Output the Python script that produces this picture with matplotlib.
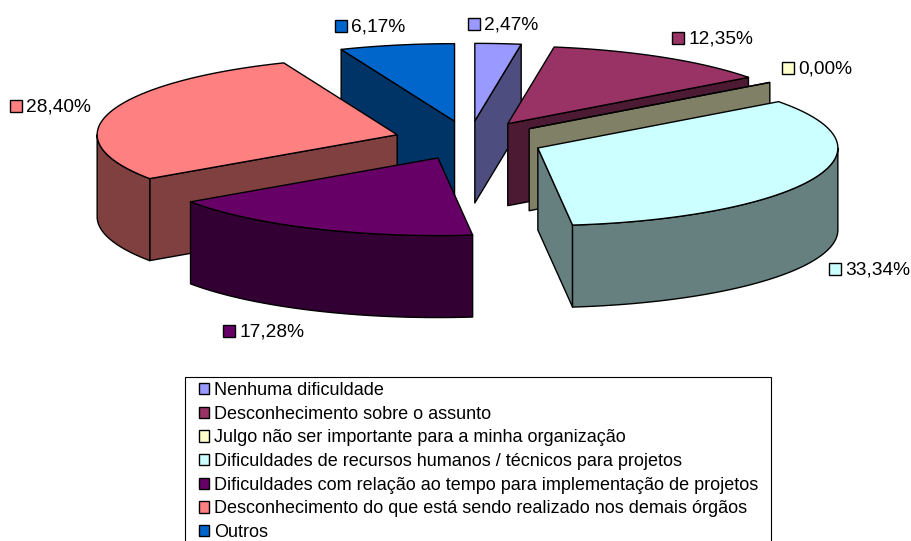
import numpy as np
import matplotlib
matplotlib.use("Agg")
import matplotlib.pyplot as plt
from matplotlib.patches import Polygon, Rectangle, Patch

plt.rcParams['font.family'] = ['Liberation Sans', 'DejaVu Sans']

categories = [
    "Nenhuma dificuldade",
    "Desconhecimento sobre o assunto",
    "Julgo não ser importante para a minha organização",
    "Dificuldades de recursos humanos / técnicos para projetos",
    "Dificuldades com relação ao tempo para implementação de projetos",
    "Desconhecimento do que está sendo realizado nos demais órgãos",
    "Outros",
]
values = [2.47, 12.35, 0.00, 33.34, 17.28, 28.40, 6.17]
top_colors = ["#9999FF", "#993366", "#FFFFCC", "#CCFFFF", "#660066", "#FF8080", "#0066CC"]
side_colors = ["#4D4D80", "#4D1A33", "#808066", "#668080", "#330033", "#804040", "#003366"]

# pie geometry, in pixels
CX, CY = 469, 140.3
RX, RY = 300, 77.6
DEPTH = 82
EXPLODE = 0.25

# left edge of the label square, centre height of the label
label_pos = [(468, 24), (672, 38), (782, 68), (829, 269), (223, 331), (10, 106), (335, 26)]


def pt(cx, cy, deg, drop=0):
    t = np.radians(deg)
    return np.column_stack([cx + RX * np.sin(t), cy - RY * np.cos(t) + drop])


def wall(cx, cy, deg):
    edge = pt(cx, cy, np.array([deg]))[0].tolist()
    return [[cx, cy], edge, [edge[0], edge[1] + DEPTH], [cx, cy + DEPTH]]


fig = plt.figure(figsize=(9.12, 5.41), dpi=100)
ax = fig.add_axes([0, 0, 1, 1])
ax.set_xlim(0, 912)
ax.set_ylim(541, 0)
ax.axis("off")

edges = np.cumsum([0] + values) / sum(values) * 360
mids = (edges[:-1] + edges[1:]) / 2

# back slices first so the front ones cover them
for i in np.argsort(-np.cos(np.radians(mids))):
    a, b = edges[i], edges[i + 1]
    m = np.radians(mids[i])
    cx = CX + EXPLODE * RX * np.sin(m)
    cy = CY - EXPLODE * RY * np.cos(m)
    style = dict(edgecolor="black", linewidth=1.0, joinstyle="round")

    if np.sin(np.radians(a)) < 0:
        ax.add_patch(Polygon(wall(cx, cy, a), facecolor=side_colors[i], **style))
    if np.sin(np.radians(b)) > 0:
        ax.add_patch(Polygon(wall(cx, cy, b), facecolor=side_colors[i], **style))

    lo, hi = max(a, 90), min(b, 270)
    if hi > lo:
        arc = np.linspace(lo, hi, 80)
        outer = np.vstack([pt(cx, cy, arc), pt(cx, cy, arc[::-1], DEPTH)])
        ax.add_patch(Polygon(outer, facecolor=side_colors[i], **style))

    arc = np.linspace(a, b, 120)
    top = np.vstack([[[cx, cy]], pt(cx, cy, arc)])
    ax.add_patch(Polygon(top, facecolor=top_colors[i], **style))

# data labels
for i, (x, y) in enumerate(label_pos):
    ax.add_patch(Rectangle((x, y - 6), 12, 12, facecolor=top_colors[i],
                           edgecolor="black", linewidth=1.0))
    ax.text(x + 16.5, y + 1, f"{values[i]:.2f}%".replace(".", ","), fontsize=13.8,
            va="center", ha="left", color="black")

# legend box runs off the bottom of the picture
ax.add_patch(Rectangle((185, 377), 586, 180, facecolor="white", edgecolor="black",
                       linewidth=0.8))
handles = [Patch(facecolor=c, edgecolor="black", linewidth=1.0, label=n)
           for c, n in zip(top_colors, categories)]
ax.legend(handles=handles, loc="upper left", bbox_to_anchor=(199, 382),
          bbox_transform=ax.transData, frameon=False, fontsize=13, borderpad=0,
          borderaxespad=0, handlelength=0.58, handleheight=0.58, handletextpad=0.26,
          labelspacing=0.37)

fig.savefig("out.png", dpi=100)
